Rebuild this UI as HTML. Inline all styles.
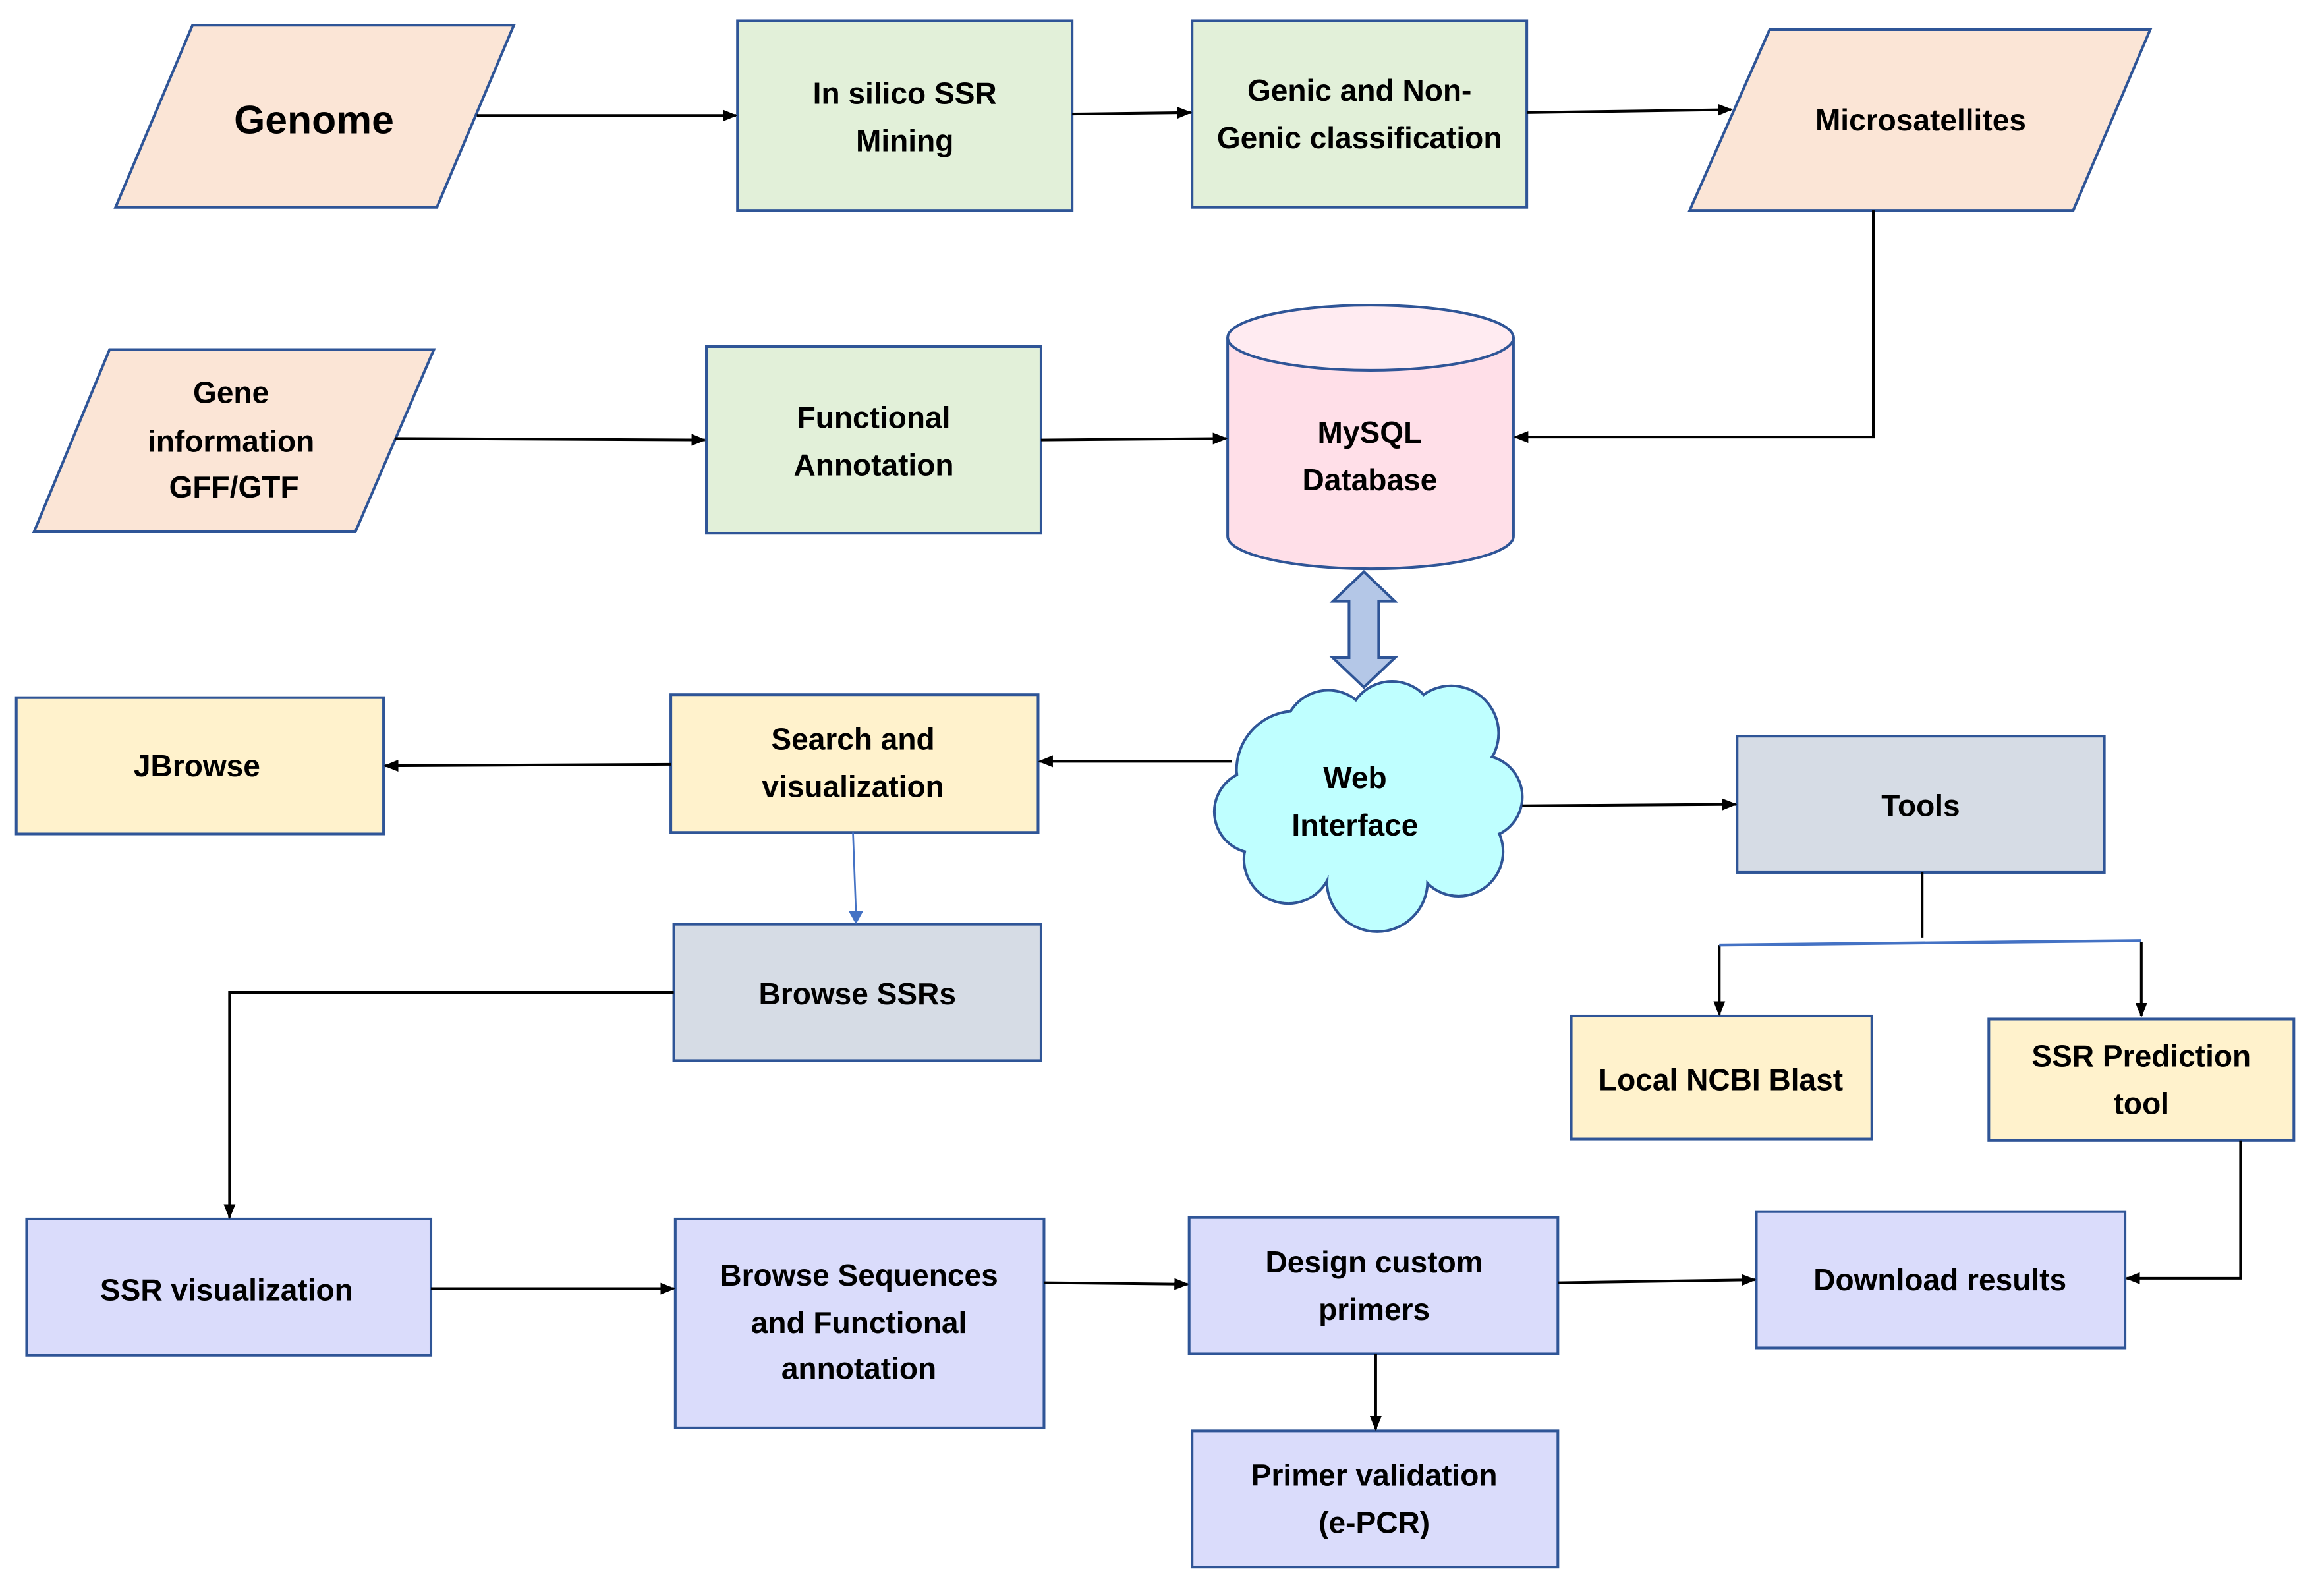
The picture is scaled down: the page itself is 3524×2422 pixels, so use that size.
<!DOCTYPE html>
<html><head><meta charset="utf-8"><style>
html,body{margin:0;padding:0;background:#fff}
svg{display:block}
text{font-family:"Liberation Sans",sans-serif;font-weight:bold;font-size:20.5px;fill:#000;text-anchor:middle}
</style></head><body>
<svg width="3524" height="2422" viewBox="0 0 1568 1077.5" preserveAspectRatio="none" xmlns="http://www.w3.org/2000/svg">
<defs>
<marker id="a" markerWidth="10" markerHeight="8" refX="9" refY="4" orient="auto" markerUnits="userSpaceOnUse"><path d="M0,0 L10,4 L0,8 z" fill="#000"/></marker>
</defs>
<g stroke="#2F5597" stroke-width="1.8">
<polygon points="130,17 347,17 295,140 78,140" fill="#FBE5D6"/>
<rect x="498" y="14" width="226" height="128" fill="#E2F0D9"/>
<rect x="805" y="14" width="226" height="126" fill="#E2F0D9"/>
<polygon points="1195,20 1452,20 1400,142 1141,142" fill="#FBE5D6"/>
<polygon points="74,236 293,236 240,359 23,359" fill="#FBE5D6"/>
<rect x="477" y="234" width="226" height="126" fill="#E2F0D9"/>
<path d="M829,228 L829,362 A96.5,22 0 0 0 1022,362 L1022,228" fill="#FFDFE8"/>
<ellipse cx="925.5" cy="228" rx="96.5" ry="22" fill="#FFEBF1"/>
<polygon points="921,386 942,406 931,406 931,444 942,444 921,464 900,444 911,444 911,406 900,406" fill="#B4C7E7"/>
<rect x="11" y="471" width="248" height="92" fill="#FFF2CC"/>
<rect x="453" y="469" width="248" height="93" fill="#FFF2CC"/>
<rect x="455" y="624" width="248" height="92" fill="#D6DCE5"/>
<rect x="1173" y="497" width="248" height="92" fill="#D6DCE5"/>
<rect x="1061" y="686" width="203" height="83" fill="#FFF2CC"/>
<rect x="1343" y="688" width="206" height="82" fill="#FFF2CC"/>
<rect x="18" y="823" width="273" height="92" fill="#DADCFB"/>
<rect x="456" y="823" width="249" height="141" fill="#DADCFB"/>
<rect x="803" y="822" width="249" height="92" fill="#DADCFB"/>
<rect x="1186" y="818" width="249" height="92" fill="#DADCFB"/>
<rect x="805" y="966" width="247" height="92" fill="#DADCFB"/>
</g>
<g fill="#BFFFFF" stroke="#2F5597" stroke-width="1.8">
<circle cx="875" cy="520" r="40"/><circle cx="897" cy="496" r="30"/><circle cx="940" cy="490" r="30"/>
<circle cx="980" cy="495" r="32"/><circle cx="1000" cy="538" r="28"/><circle cx="985" cy="575" r="30"/>
<circle cx="930" cy="595" r="34"/><circle cx="870" cy="580" r="30"/><circle cx="848" cy="548" r="28"/>
</g>
<g fill="#BFFFFF">
<circle cx="875" cy="520" r="39"/><circle cx="897" cy="496" r="29"/><circle cx="940" cy="490" r="29"/>
<circle cx="980" cy="495" r="31"/><circle cx="1000" cy="538" r="27"/><circle cx="985" cy="575" r="29"/>
<circle cx="930" cy="595" r="33"/><circle cx="870" cy="580" r="29"/><circle cx="848" cy="548" r="27"/>
<ellipse cx="925" cy="545" rx="70" ry="50"/>
</g>
<g stroke="#000" stroke-width="1.8" fill="none">
<line x1="322" y1="78" x2="497" y2="78" marker-end="url(#a)"/>
<line x1="724" y1="77" x2="804" y2="76" marker-end="url(#a)"/>
<line x1="1031" y1="76" x2="1169" y2="74" marker-end="url(#a)"/>
<polyline points="1265,142 1265,295 1023,295" marker-end="url(#a)"/>
<line x1="267" y1="296" x2="476" y2="297" marker-end="url(#a)"/>
<line x1="703" y1="297" x2="828" y2="296" marker-end="url(#a)"/>
<line x1="832" y1="514" x2="702" y2="514" marker-end="url(#a)"/>
<line x1="453" y1="516" x2="260" y2="517" marker-end="url(#a)"/>
<line x1="1028" y1="544" x2="1172" y2="543" marker-end="url(#a)"/>
<polyline points="455,670 155,670 155,822" marker-end="url(#a)"/>
<line x1="1298" y1="589" x2="1298" y2="633"/>
<line x1="1161" y1="638" x2="1161" y2="685" marker-end="url(#a)"/>
<line x1="1446" y1="636" x2="1446" y2="686" marker-end="url(#a)"/>
<polyline points="1513,770 1513,863 1436,863" marker-end="url(#a)"/>
<line x1="291" y1="870" x2="455" y2="870" marker-end="url(#a)"/>
<line x1="705" y1="866" x2="802" y2="867" marker-end="url(#a)"/>
<line x1="1052" y1="866" x2="1185" y2="864" marker-end="url(#a)"/>
<line x1="929" y1="914" x2="929" y2="965" marker-end="url(#a)"/>
</g>
<line x1="1161" y1="638" x2="1446" y2="635" stroke="#4472C4" stroke-width="2"/>
<line x1="576" y1="562" x2="578" y2="616" stroke="#4472C4" stroke-width="1.2"/>
<path d="M573,615 L578,624 L583,615 z" fill="#4472C4"/>
<text x="212" y="90" style="font-size:27px">Genome</text>
<text x="611" y="70">In silico SSR</text><text x="611" y="102">Mining</text>
<text x="918" y="68">Genic and Non-</text><text x="918" y="100">Genic classification</text>
<text x="1297" y="88">Microsatellites</text>
<text x="156" y="272">Gene</text><text x="156" y="305">information</text><text x="158" y="336">GFF/GTF</text>
<text x="590" y="289">Functional</text><text x="590" y="321">Annotation</text>
<text x="925" y="299">MySQL</text><text x="925" y="331">Database</text>
<text x="915" y="532">Web</text><text x="915" y="564">Interface</text>
<text x="133" y="524">JBrowse</text>
<text x="576" y="506">Search and</text><text x="576" y="538">visualization</text>
<text x="579" y="678">Browse SSRs</text>
<text x="1297" y="551">Tools</text>
<text x="1162" y="736">Local NCBI Blast</text>
<text x="1446" y="720">SSR Prediction</text><text x="1446" y="752">tool</text>
<text x="153" y="878">SSR visualization</text>
<text x="580" y="868">Browse Sequences</text><text x="580" y="900">and Functional</text><text x="580" y="931">annotation</text>
<text x="928" y="859">Design custom</text><text x="928" y="891">primers</text>
<text x="1310" y="871">Download results</text>
<text x="928" y="1003">Primer validation</text><text x="928" y="1035">(e-PCR)</text>
</svg>
</body></html>
